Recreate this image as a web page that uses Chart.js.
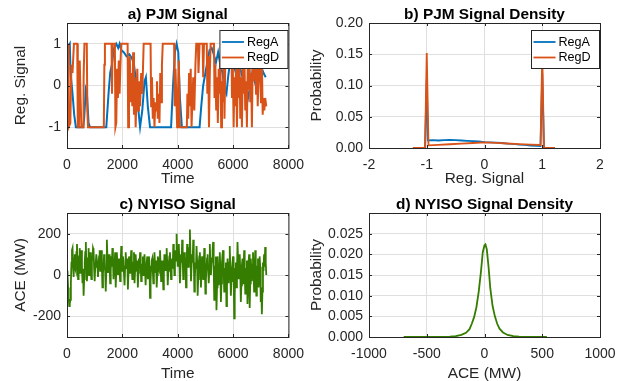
<!DOCTYPE html>
<html>
<head>
<meta charset="utf-8">
<script src="https://cdn.jsdelivr.net/npm/chart.js@4"></script>
<style>
  body { margin: 0; background: #fff; }
  #wrap { position: relative; width: 626px; height: 381px; overflow: hidden; }
  canvas { position: absolute; }
</style>
</head>
<body>
<div id="wrap">
  <canvas id="c-a" width="313" height="190" style="left:0;top:0"></canvas>
  <canvas id="c-b" width="326" height="190" style="left:300px;top:0"></canvas>
  <canvas id="c-c" width="313" height="191" style="left:0;top:190px"></canvas>
  <canvas id="c-d" width="326" height="191" style="left:300px;top:190px"></canvas>
</div>
<script>
// ── Data ──────────────────────────────────────────────────────────────────────
// a) PJM signal, [time, value]
const regA = [
  [0,1],[60,0.95],[100,1],[130,0.3],[200,-0.2],[260,-0.7],[320,-1],[580,-1],[620,-0.8],[680,-0.1],
  [720,-0.2],[780,-0.9],[830,-1],[1420,-1],[1500,-0.2],[1560,0.3],[1620,0.5],[1700,0.9],[1780,1],[1850,0.9],
  [1900,1],[1960,0.85],[2050,0.8],[2150,0.7],[2250,0.75],[2350,0.65],[2420,0.5],[2500,0.1],[2580,-0.6],[2640,-1],
  [2720,-0.6],[2800,0.1],[2850,0.2],[2920,-0.5],[3000,-1],[3760,-1],[3830,0],[3900,0.8],[3960,1],[4020,0.8],
  [4080,-0.3],[4150,-1],[4790,-1],[4850,-0.5],[4920,0],[5000,0.3],[5080,0.6],[5150,0.85],[5230,0.9],[5300,0.75],
  [5380,0.55],[5460,0.8],[5540,0.5],[5620,0.3],[5700,-0.1],[5760,-0.2],[5820,0.2],[5900,0.6],[5980,0.75],[6060,0.4],
  [6140,0.2],[6220,0.55],[6300,0.3],[6380,0.1],[6460,-0.1],[6540,-0.3],[6620,0],[6700,0.35],[6780,0.1],[6860,-0.1],
  [6940,0.2],[7020,0.45],[7100,0.3],[7180,0.2]
];
const regD = [
  [0,0.8],[40,1],[60,-1],[120,-0.9],[160,0.5],[200,0.3],[250,1],[370,1],[390,-1],[430,-1],
  [460,0.6],[490,-0.3],[520,-1],[580,-1],[600,0.2],[630,1],[715,1],[735,-0.6],[760,-1],[1330,-1],
  [1350,0.5],[1370,1],[1610,1],[1625,-0.2],[1650,1],[1730,1],[1750,-1],[1780,-0.9],[1810,0.4],[1840,-0.3],
  [1870,0.6],[1900,-0.2],[1930,0.5],[1960,1],[2190,1],[2210,-1],[2240,-0.2],[2270,0.7],[2300,-0.4],[2330,0.3],
  [2360,-0.5],[2390,0.8],[2420,-0.7],[2450,0.2],[2480,-1],[2510,-0.3],[2540,0.4],[2570,-0.6],[2600,0.1],[2640,-0.5],
  [2680,0.3],[2720,-0.2],[2770,1],[3020,1],[3040,-0.5],[3070,0.2],[3100,-0.8],[3130,-0.3],[3160,-1],[3190,-0.4],
  [3220,-0.6],[3250,0.1],[3280,-0.8],[3310,-0.2],[3340,-0.9],[3370,0.3],[3400,-0.4],[3430,0.5],[3460,1],[3870,1],
  [3890,-0.5],[3920,0.4],[3950,-0.3],[3980,-1],[4010,-0.2],[4040,0.6],[4080,-1],[4330,-1],[4350,-0.2],[4380,-0.8],
  [4410,0.3],[4440,-0.5],[4470,0.4],[4500,-1],[4530,-0.4],[4560,0.2],[4600,-0.6],[4640,0.5],[4670,1],[4730,1],
  [4750,0.3],[4790,1],[4900,1],[4920,0.2],[4950,1],[5050,1],[5070,-0.2],[5100,0.7],[5130,-1],[5160,0.3],
  [5190,1],[5310,1],[5330,-0.3],[5360,0.5],[5390,-0.6],[5420,0.2],[5450,-0.9],[5480,0.4],[5510,-0.2],[5540,0.7],
  [5570,-1],[5600,0.1],[5630,-0.4],[5660,0.5],[5690,-0.8],[5720,0.6],[5770,1],[5940,1],[5960,-0.3],[5990,0.5],
  [6020,-1],[6050,0.2],[6080,-0.5],[6110,0.6],[6140,-1],[6170,0.3],[6200,-0.3],[6230,0.8],[6260,-0.8],[6290,0.2],
  [6320,-1],[6350,0.4],[6380,-0.2],[6410,0.7],[6440,-0.6],[6470,0.1],[6500,-1],[6530,0.5],[6560,-0.1],[6590,0.9],
  [6620,-0.4],[6650,0.3],[6680,-1],[6710,0.6],[6740,0.1],[6770,1],[6800,0.5],[6830,-0.2],[6860,0.8],[6890,-0.5],
  [6920,0.2],[6950,0.9],[6980,0.3],[7010,-0.4],[7040,0.6],[7070,-0.7],[7100,-0.3],[7130,-0.6],[7160,-0.3],[7200,-0.5]
];

// b) PJM signal density, [signal, probability]
const regADensity = [
  [-1.24,0],[-1.03,0],[-1.0,0.11],[-0.98,0.012],[-0.9,0.0125],[-0.8,0.012],[-0.7,0.0125],[-0.6,0.013],
  [-0.5,0.0125],[-0.4,0.012],[-0.3,0.0115],[-0.2,0.011],[-0.1,0.0105],[0,0.0095],[0.1,0.009],[0.2,0.0085],
  [0.3,0.008],[0.4,0.007],[0.5,0.0065],[0.6,0.0055],[0.7,0.005],[0.8,0.004],[0.9,0.0035],[0.97,0.003],
  [1.0,0.12],[1.03,0],[1.22,0]
];
const regDDensity = [
  [-1.24,0],[-1.03,0],[-1.0,0.152],[-0.97,0.0043],[-0.8,0.005],[-0.6,0.006],[-0.4,0.007],[-0.2,0.008],
  [0,0.0091],[0.2,0.0083],[0.4,0.0072],[0.6,0.0062],[0.8,0.0053],[0.97,0.0048],[1.0,0.15],[1.03,0],[1.22,0]
];

// c) NYISO signal, one sample every nyisoStep seconds (MW), one row = 400 s
const nyisoStep = 20;
const nyisoAce = [
  20,0,-60,-110,-150,-140,-120,-40,60,120,130,40,-10,80,100,30,20,110,150,60,
  -20,50,90,130,10,70,120,40,-40,30,-100,-20,60,110,160,50,-30,20,80,130,
  0,60,110,20,-20,90,70,130,120,30,-30,40,60,100,100,40,-10,50,90,120,
  20,80,120,50,-60,10,40,100,80,20,-80,30,170,90,10,60,100,40,-40,20,
  90,40,130,80,-20,30,60,110,-60,20,110,60,0,50,80,20,-30,60,140,70,
  20,90,70,0,-50,40,110,60,30,80,-70,10,90,50,10,60,120,40,-20,50,
  60,110,-40,20,100,50,20,70,-60,10,80,40,110,60,-30,20,50,90,0,40,
  100,30,-50,20,60,90,-20,30,90,40,-110,-30,40,70,80,20,-40,30,110,50,
  10,70,-60,0,90,40,30,80,120,50,-30,20,70,30,-70,10,100,60,20,70,
  130,60,-50,20,60,90,110,40,-20,50,80,30,150,80,0,60,120,70,200,110,
  40,90,150,60,-40,30,100,60,170,80,-20,40,110,50,60,-60,20,150,90,40,
  80,130,220,100,-30,40,100,60,170,90,-80,-10,60,30,140,70,-100,-20,50,90,
  110,40,-60,20,90,50,-20,40,130,60,-90,-20,40,80,100,30,-40,20,150,60,
  0,50,80,120,160,40,-120,-40,40,90,-170,-60,90,40,-50,20,110,30,-130,-40,
  60,100,120,30,-80,-20,30,60,-150,-60,80,20,-40,60,140,40,-100,-30,20,60,
  90,30,-210,-100,30,60,-60,0,160,80,-20,40,100,20,-130,-50,50,80,-40,20,
  120,40,-90,-20,30,70,-140,-60,60,100,-160,-40,80,20,-30,50,110,30,-80,-10,
  120,60,-100,-30,40,80,-60,0,90,40,-130,-60,-190,-80,60,20,100,40,135,60,
  0
];

// d) NYISO signal density, [ACE (MW), probability]
const nyisoDensity = [
  [-700,0],[-500,0],[-400,0.00002],[-300,0.0001],[-250,0.0002],[-200,0.0005],[-160,0.001],[-130,0.0019],
  [-110,0.0032],[-90,0.0048],[-70,0.0072],[-50,0.011],[-30,0.016],[-15,0.0205],[0,0.0222],[8,0.0224],
  [20,0.0212],[35,0.017],[50,0.0118],[70,0.0075],[90,0.005],[110,0.0032],[130,0.002],[160,0.0011],
  [200,0.0005],[250,0.0002],[300,0.0001],[400,0.00002],[540,0]
];

// tick labels
const timeTicks = [0, 2000, 4000, 6000, 8000];
const signalTicks = [-1, 0, 1];
const signalDensityXTicks = [-2, -1, 0, 1, 2];
const signalDensityYTicks = [0, 0.05, 0.1, 0.15, 0.2];
const aceTicks = [-200, 0, 200];
const aceDensityXTicks = [-1000, -500, 0, 500, 1000];
const aceDensityYTicks = [0, 0.005, 0.01, 0.015, 0.02, 0.025];

// ── Styling ───────────────────────────────────────────────────────────────────
const FONT = '"Liberation Sans", Arial, sans-serif';
const BLUE = "#0072bd";
const ORANGE = "#d95319";
const GREEN = "#347d00";
const AXIS = "#262626";
const GRID = "#dfdfdf";

// MATLAB-like frame: box, inward ticks, title, axis labels, legend
const matlabAxes = {
  id: "matlabAxes",
  afterDatasetsDraw(chart, args, o) {
    const { ctx, chartArea: a, scales } = chart;
    ctx.save();
    ctx.strokeStyle = AXIS;
    ctx.lineWidth = 1;
    ctx.beginPath();
    for (const t of scales.x.ticks) {
      const px = Math.round(scales.x.getPixelForValue(t.value)) + 0.5;
      ctx.moveTo(px, a.bottom); ctx.lineTo(px, a.bottom - 3);
      ctx.moveTo(px, a.top); ctx.lineTo(px, a.top + 3);
    }
    for (const t of scales.y.ticks) {
      const py = Math.round(scales.y.getPixelForValue(t.value)) + 0.5;
      ctx.moveTo(a.left, py); ctx.lineTo(a.left + 3, py);
      ctx.moveTo(a.right, py); ctx.lineTo(a.right - 3, py);
    }
    ctx.stroke();
    ctx.strokeRect(a.left + 0.5, a.top + 0.5, a.width, a.height);

    // legend
    if (o.legend) {
      const w = 68, h = 38;
      const lx = a.right - w - 0.5, ly = a.top + 7.5;
      ctx.fillStyle = "#fff";
      ctx.fillRect(lx, ly, w, h);
      ctx.strokeStyle = AXIS;
      ctx.strokeRect(lx, ly, w, h);
      ctx.font = `12.6px ${FONT}`;
      ctx.textBaseline = "middle";
      ctx.textAlign = "left";
      o.legend.forEach((item, i) => {
        const y = ly + 11.5 + i * 15.5;
        ctx.strokeStyle = item.color;
        ctx.lineWidth = 1.8;
        ctx.beginPath();
        ctx.moveTo(lx + 2, y); ctx.lineTo(lx + 24, y);
        ctx.stroke();
        ctx.fillStyle = "#000";
        ctx.fillText(item.label, lx + 27, y + 0.5);
      });
    }

    // title and axis labels
    const cx = (a.left + a.right) / 2;
    ctx.fillStyle = "#000";
    ctx.textAlign = "center";
    ctx.textBaseline = "alphabetic";
    ctx.font = `bold 15.4px ${FONT}`;
    ctx.fillText(o.title, cx, a.top - 4);

    ctx.fillStyle = AXIS;
    ctx.font = `15.4px ${FONT}`;
    ctx.fillText(o.xLabel, cx, o.xLabelY);

    ctx.save();
    ctx.translate(o.yLabelX, (a.top + a.bottom) / 2);
    ctx.rotate(-Math.PI / 2);
    ctx.textBaseline = "middle";
    ctx.fillText(o.yLabel, 0, 0);
    ctx.restore();
    ctx.restore();
  }
};

function axis(min, max, ticks, fmt, fitFn, padding) {
  return {
    type: "linear",
    min, max,
    afterBuildTicks: s => { s.ticks = ticks.map(v => ({ value: v })); },
    afterFit: fitFn,
    ticks: {
      color: AXIS,
      font: { family: FONT, size: 14 },
      padding,
      autoSkip: false,
      maxRotation: 0,
      callback: v => fmt(v),
    },
    grid: { color: GRID, drawTicks: false },
    border: { display: false },
  };
}

function line(points, color, order, width) {
  return {
    data: points.map(([x, y]) => ({ x, y })),
    borderColor: color,
    borderWidth: width,
    pointRadius: 0,
    tension: 0,
    order,
  };
}

function makeChart(id, datasets, xAxis, yAxis, padRight, frame) {
  return new Chart(document.getElementById(id), {
    type: "line",
    data: { datasets },
    options: {
      responsive: false,
      animation: false,
      devicePixelRatio: 1,
      layout: { padding: { top: 23, right: padRight, left: 0, bottom: 0 } },
      scales: { x: xAxis, y: yAxis },
      plugins: {
        legend: { display: false },
        tooltip: { enabled: false },
        matlabAxes: frame,
      },
    },
    plugins: [matlabAxes],
  });
}

const plain = v => String(v);
const legendItems = [{ label: "RegA", color: BLUE }, { label: "RegD", color: ORANGE }];

// ── a) PJM Signal ─────────────────────────────────────────────────────────────
makeChart("c-a",
  [line(regA, BLUE, 1, 2), line(regD, ORANGE, 0, 2)],
  axis(0, 8000, timeTicks, plain, s => { s.height = 42; }, 9),
  axis(-1.5, 1.5, signalTicks, plain, s => { s.width = 67; }, 6),
  15,
  { title: "a) PJM Signal", xLabel: "Time", xLabelY: 183, yLabel: "Reg. Signal", yLabelX: 21, legend: legendItems });

// ── b) PJM Signal Density ─────────────────────────────────────────────────────
makeChart("c-b",
  [line(regADensity, BLUE, 1, 1.8), line(regDDensity, ORANGE, 0, 1.8)],
  axis(-2, 2, signalDensityXTicks, plain, s => { s.height = 42; }, 9),
  axis(0, 0.2, signalDensityYTicks, v => v.toFixed(2), s => { s.width = 69; }, 6),
  26,
  { title: "b) PJM Signal Density", xLabel: "Reg. Signal", xLabelY: 183, yLabel: "Probability", yLabelX: 17, legend: legendItems });

// ── c) NYISO Signal ───────────────────────────────────────────────────────────
makeChart("c-c",
  [line(nyisoAce.map((v, i) => [i * nyisoStep, v]), GREEN, 0, 1.8)],
  axis(0, 8000, timeTicks, plain, s => { s.height = 44; }, 9),
  axis(-300, 300, aceTicks, plain, s => { s.width = 67; }, 6),
  15,
  { title: "c) NYISO Signal", xLabel: "Time", xLabelY: 188, yLabel: "ACE (MW)", yLabelX: 21 });

// ── d) NYISO Signal Density ───────────────────────────────────────────────────
makeChart("c-d",
  [line(nyisoDensity, GREEN, 0, 1.8)],
  axis(-1000, 1000, aceDensityXTicks, plain, s => { s.height = 44; }, 9),
  axis(0, 0.03, aceDensityYTicks, v => v.toFixed(3), s => { s.width = 69; }, 6),
  26,
  { title: "d) NYISO Signal Density", xLabel: "ACE (MW)", xLabelY: 188, yLabel: "Probability", yLabelX: 17 });
</script>
</body>
</html>
